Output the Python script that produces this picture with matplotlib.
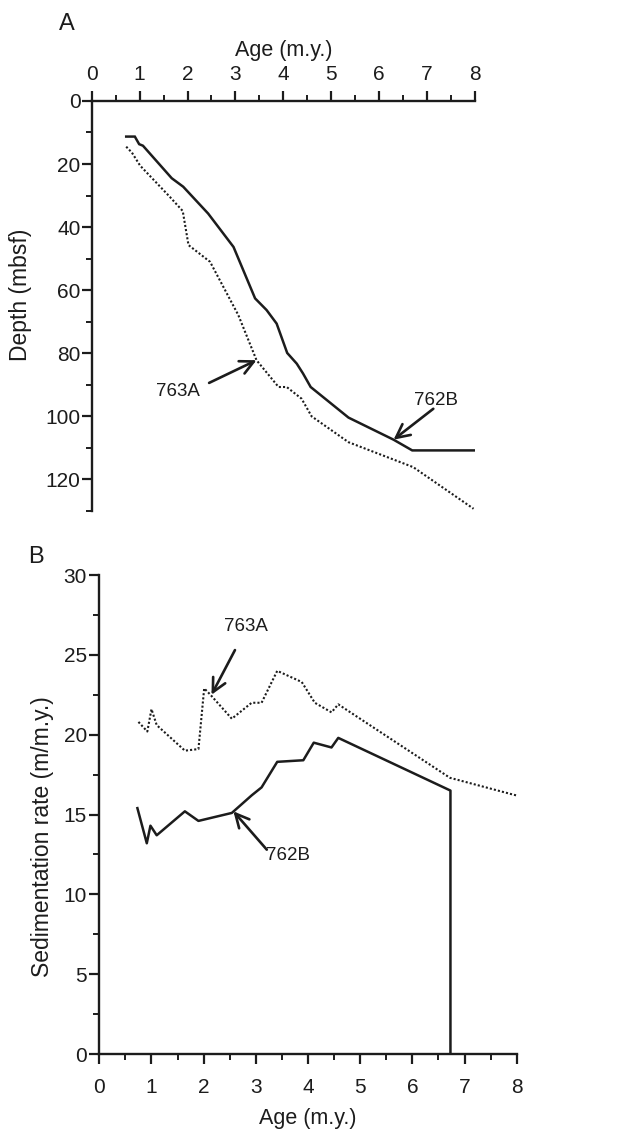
import matplotlib
matplotlib.use("Agg")
import matplotlib.pyplot as plt
from matplotlib.ticker import MultipleLocator

# ---------------------------
# Data
# ---------------------------
# A: age-depth curves
age_762b_depth = [0.72, 0.90, 0.99, 1.07, 1.67, 1.91, 2.43, 2.96, 3.41, 3.65, 3.86,
                  4.08, 4.28, 4.41, 4.57, 5.36, 6.30, 6.69, 8.00]
depth_762b = [11.3, 11.3, 13.7, 14.2, 24.5, 27.2, 35.7, 46.3, 62.6, 66.3, 70.6,
              79.9, 83.3, 86.4, 90.7, 100.4, 107.4, 110.8, 110.8]

age_763a_depth = [0.72, 0.84, 1.01, 1.63, 1.90, 2.02, 2.47, 3.06, 3.44, 3.90, 4.07,
                  4.38, 4.59, 5.36, 6.71, 7.97]
depth_763a = [14.5, 16.4, 20.5, 30.4, 34.9, 45.7, 51.0, 67.9, 82.2, 90.7, 90.7,
              94.4, 100.0, 108.2, 116.1, 129.3]

# B: sedimentation rates
age_763a_rate = [0.75, 0.92, 1.00, 1.10, 1.64, 1.90, 2.01, 2.13, 2.54, 2.92, 3.11,
                 3.41, 3.88, 4.13, 4.45, 4.58, 6.72, 7.87, 7.99]
rate_763a = [20.8, 20.2, 21.6, 20.6, 19.0, 19.1, 22.9, 22.5, 21.0, 22.0, 22.0,
             24.0, 23.3, 22.0, 21.4, 21.9, 17.3, 16.3, 16.2]

age_762b_rate = [0.73, 0.91, 0.98, 1.10, 1.64, 1.90, 2.54, 2.92, 3.11, 3.41, 3.91,
                 4.11, 4.45, 4.58, 6.73, 6.73]
rate_762b = [15.4, 13.2, 14.3, 13.7, 15.2, 14.6, 15.1, 16.2, 16.7, 18.3, 18.4,
             19.5, 19.2, 19.8, 16.5, 0.0]

age_ticks = list(range(0, 9))
depth_ticks = [0, 20, 40, 60, 80, 100, 120]
rate_ticks = [0, 5, 10, 15, 20, 25, 30]

# ---------------------------
# Style
# ---------------------------
plt.rcParams["font.family"] = ["Liberation Sans", "DejaVu Sans"]
plt.rcParams["font.size"] = 14
INK = "#1c1c1c"
DOTTED = (0, (1.0, 1.0))
TICK_SIZE = 15
LABEL_SIZE = 15.5
YLABEL_SIZE = 16.5
NOTE_SIZE = 13.5

fig = plt.figure(figsize=(6.18, 11.38), dpi=100)


def style_axis(ax):
    for side in ("left", "top", "bottom", "right"):
        ax.spines[side].set_linewidth(1.7)
        ax.spines[side].set_color(INK)
    ax.tick_params(which="major", direction="out", length=7, width=1.6, colors=INK,
                   labelcolor=INK, labelsize=TICK_SIZE)
    ax.tick_params(which="minor", direction="out", length=4, width=1.4, colors=INK)


def arrow(ax, text, xy, xytext, tail):
    ax.annotate("", xy=xy, xytext=tail,
                arrowprops=dict(arrowstyle="->,head_length=0.7,head_width=0.35",
                                color=INK, lw=1.9, shrinkA=0, shrinkB=0))
    ax.text(xytext[0], xytext[1], text, ha="center", va="center",
            fontsize=NOTE_SIZE, color=INK)


# ---------------------------
# A: Depth vs age
# ---------------------------
ax_a = fig.add_axes([0.1484, 0.5510, 0.6202, 0.3603])
ax_a.plot(age_762b_depth, depth_762b, color=INK, lw=1.8, solid_joinstyle="miter")
ax_a.plot(age_763a_depth, depth_763a, color=INK, lw=1.5, linestyle=DOTTED)
ax_a.set_xlim(0, 8)
ax_a.set_ylim(130, 0)
ax_a.xaxis.tick_top()
ax_a.xaxis.set_label_position("top")
ax_a.spines["right"].set_visible(False)
ax_a.spines["bottom"].set_visible(False)
ax_a.set_xticks(age_ticks)
ax_a.set_yticks(depth_ticks)
ax_a.xaxis.set_minor_locator(MultipleLocator(0.5))
ax_a.yaxis.set_minor_locator(MultipleLocator(10))
style_axis(ax_a)
ax_a.tick_params(axis="x", which="major", pad=5)
ax_a.tick_params(axis="y", which="major", pad=1)
ax_a.set_xlabel("Age (m.y.)", fontsize=LABEL_SIZE, labelpad=7, color=INK)
ax_a.set_ylabel("Depth (mbsf)", fontsize=YLABEL_SIZE, color=INK)
ax_a.yaxis.set_label_coords(-0.156, 0.527)

arrow(ax_a, "763A", xy=(3.44, 82.2), xytext=(1.80, 92.1), tail=(2.45, 89.4))
arrow(ax_a, "762B", xy=(6.30, 107.4), xytext=(7.19, 94.9), tail=(7.13, 97.6))

fig.text(67 / 618, 1 - 24 / 1138, "A", fontsize=17, ha="center", va="center", color=INK)

# ---------------------------
# B: Sedimentation rate vs age
# ---------------------------
ax_b = fig.add_axes([0.1607, 0.0738, 0.6754, 0.4209])
ax_b.plot(age_763a_rate, rate_763a, color=INK, lw=1.5, linestyle=DOTTED)
ax_b.plot(age_762b_rate, rate_762b, color=INK, lw=1.8)
ax_b.set_xlim(0, 8)
ax_b.set_ylim(0, 30)
ax_b.spines["right"].set_visible(False)
ax_b.spines["top"].set_visible(False)
ax_b.set_xticks(age_ticks)
ax_b.set_yticks(rate_ticks)
ax_b.xaxis.set_minor_locator(MultipleLocator(0.5))
ax_b.yaxis.set_minor_locator(MultipleLocator(2.5))
style_axis(ax_b)
ax_b.tick_params(axis="x", which="major", pad=10)
ax_b.tick_params(axis="y", which="major", pad=2)
ax_b.set_xlabel("Age (m.y.)", fontsize=LABEL_SIZE, labelpad=8, color=INK)
ax_b.set_ylabel("Sedimentation rate (m/m.y.)", fontsize=YLABEL_SIZE, color=INK)
ax_b.yaxis.set_label_coords(-0.108, 0.453)

arrow(ax_b, "763A", xy=(2.15, 22.5), xytext=(2.81, 26.76), tail=(2.60, 25.3))
arrow(ax_b, "762B", xy=(2.57, 15.2), xytext=(3.61, 12.46), tail=(3.21, 12.8))

fig.text(36 / 618, 1 - 557 / 1138, "B", fontsize=17, ha="center", va="center", color=INK)

fig.savefig("out.png", dpi=100, facecolor="white")
